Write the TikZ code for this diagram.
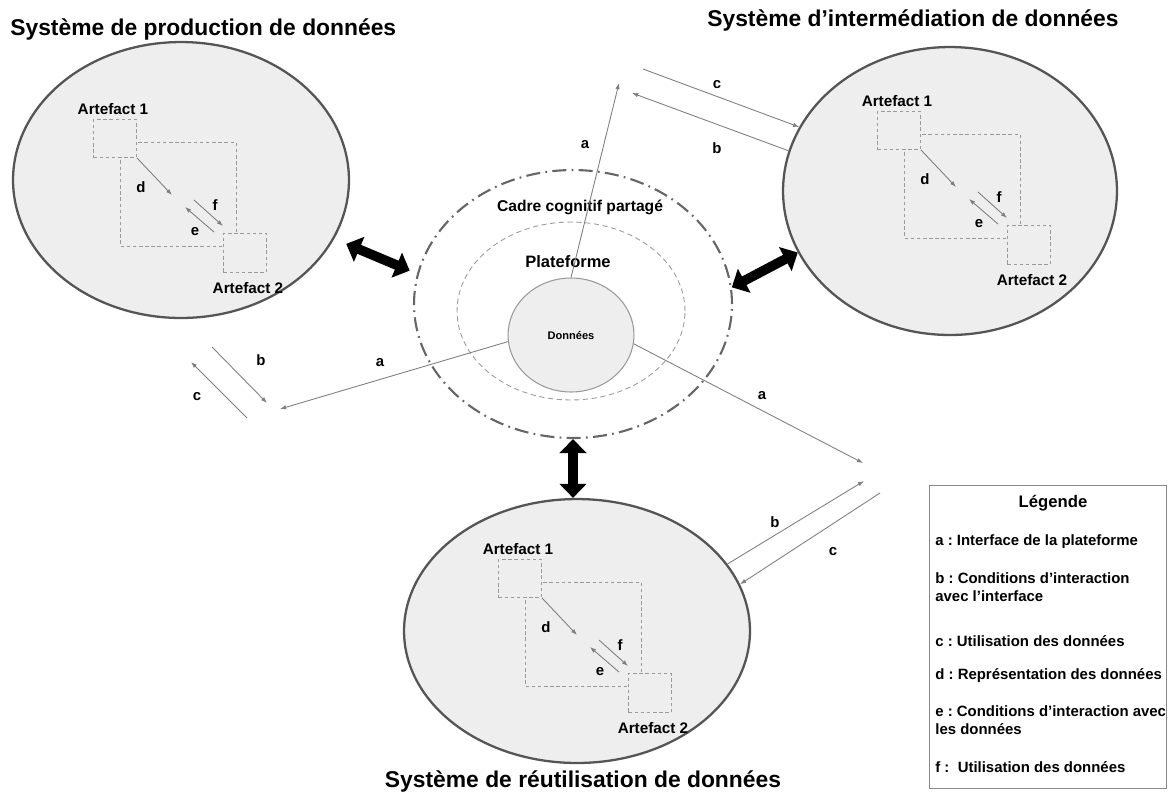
\documentclass[tikz,border=0pt]{standalone}
\usepackage{fontspec}
\setmainfont{Liberation Sans}
\usepackage{tikz}
\usetikzlibrary{shapes.geometric,arrows.meta}
\frenchspacing

\definecolor{fondgris}{HTML}{EEEEEE}
\definecolor{traitgris}{HTML}{555555}
\definecolor{filgris}{HTML}{7F7F7F}
\definecolor{pointille}{HTML}{9A9A9A}

\tikzset{
  artefacts/.pic={
    \draw[boite] (27,23) rectangle (143,127);
    \node[boite,fill=fondgris,anchor=north west,minimum width=0.86cm,minimum height=0.76cm] (-un) at (0,0) {};
    \node[boite,fill=fondgris,anchor=north west,minimum width=0.86cm,minimum height=0.78cm] (-deux) at (130,114) {};
    \node[etiq] (-nomun) at (20,-10) {Artefact 1};
    \node[etiq] (-nomdeux) at (155,169) {Artefact 2};
    \coordinate (-dfin) at (79,76);
    \coordinate (-fdeb) at (101,81);
    \coordinate (-ffin) at (130,107);
    \coordinate (-edeb) at (121,113);
    \coordinate (-efin) at (92,88);
    \draw[fil] (-un.south east) -- (-dfin);
    \draw[fil] (-fdeb) -- (-ffin);
    \draw[fil] (-edeb) -- (-efin);
    \node[lettre] (-d) at (48,68) {d};
    \node[lettre] (-f) at (122,86) {f};
    \node[lettre] (-e) at (102,113) {e};
  }
}

\begin{document}
\begin{tikzpicture}[x=0.02cm,y=-0.02cm,
  systeme/.style={ellipse,draw=traitgris,line width=1.3pt,fill=fondgris,inner sep=0pt},
  titre/.style={font=\fontsize{13}{15}\selectfont\bfseries,inner sep=0pt},
  etiq/.style={font=\fontsize{8.7}{10}\selectfont\bfseries,inner sep=0pt},
  lettre/.style={font=\fontsize{8.5}{10}\selectfont\bfseries,inner sep=0pt},
  boite/.style={draw=pointille,dash pattern=on 2pt off 1.5pt,line width=0.5pt},
  fil/.style={draw=filgris,line width=0.5pt,-{Latex[length=3.5pt,width=2.5pt]}},
  bloc/.style={line width=5.5pt,{Triangle[width=15pt,length=8pt]}-{Triangle[width=15pt,length=8pt]}},
  legtexte/.style={font=\fontsize{8.5}{10.2}\selectfont\bfseries,inner sep=0pt,anchor=west,align=left}]

\useasboundingbox (0,0) rectangle (1169,796);

\node[titre,anchor=base west] (tprod) at (10,35) {Système de production de données};
\node[titre,anchor=base west] (tinter) at (707,26) {Système d’intermédiation de données};
\node[titre,anchor=base] (treuse) at (583,787) {Système de réutilisation de données};

\node[systeme,minimum width=6.72cm,minimum height=5.52cm] (prod) at (181,180) {};
\node[systeme,minimum width=6.68cm,minimum height=5.76cm] (inter) at (950,191) {};
\node[systeme,minimum width=6.92cm,minimum height=5.28cm] (reuse) at (577,631) {};

\node[ellipse,draw=traitgris!90,line width=1.2pt,dash pattern=on 8pt off 3pt on 1pt off 3pt,minimum width=6.36cm,minimum height=5.36cm,inner sep=0pt] (cadre) at (573,304) {};
\node[ellipse,draw=pointille,line width=0.5pt,dash pattern=on 3pt off 2pt,minimum width=4.56cm,minimum height=3.56cm,inner sep=0pt] (plat) at (571,311) {};
\node[ellipse,draw=pointille,fill=fondgris,line width=0.6pt,minimum width=2.52cm,minimum height=2.28cm,inner sep=0pt,font=\fontsize{6.3}{7}\selectfont\bfseries] (donnees) at (571,335) {Données\hspace{0.3cm}};
\node[etiq,font=\fontsize{8.9}{10}\selectfont\bfseries] (tcadre) at (580,207) {Cadre cognitif partagé};
\node[etiq,font=\fontsize{9.4}{11}\selectfont\bfseries] (tplat) at (568,262) {Plateforme};

\pic (aprod) at (93,119) {artefacts};
\pic (ainter) at (877,111) {artefacts};
\pic (areuse) at (498,559) {artefacts};

\draw[bloc,shorten <=0.26cm,shorten >=0.16cm] (prod.-21) -- (cadre.169);
\draw[bloc] (cadre.6) -- (inter.202);
\draw[bloc] (cadre.south) -- (cadre.south |- reuse.north);

\coordinate (ahaut) at (619,83);
\coordinate (agauche) at (280,409);
\coordinate (adroite) at (863,463);
\draw[fil] (donnees.north) -- (ahaut);
\draw[fil] (donnees.186) -- (agauche);
\draw[fil] (donnees.352) -- (adroite);
\node[lettre] (la1) at (585,145) {a};
\node[lettre] (la2) at (380,363) {a};
\node[lettre] (la3) at (762,396) {a};

\coordinate (cinter) at (643,69);
\coordinate (binter) at (632,93);
\draw[fil] (cinter) -- (inter.157);
\draw[fil] (inter.166) -- (binter);
\node[lettre] (lcinter) at (717,85) {c};
\node[lettre] (lbinter) at (717,148) {b};

\coordinate (bprodd) at (212,347);
\coordinate (bprodf) at (267,403);
\coordinate (cprodd) at (247,418);
\coordinate (cprodf) at (191,362);
\draw[fil] (bprodd) -- (bprodf);
\draw[fil] (cprodd) -- (cprodf);
\node[lettre] (lbprod) at (261,360) {b};
\node[lettre] (lcprod) at (197,397) {c};

\coordinate (breuse) at (864,481);
\coordinate (creuse) at (880,493);
\draw[fil] (reuse.24) -- (breuse);
\draw[fil] (creuse) -- (reuse.16);
\node[lettre] (lbreuse) at (775,522) {b};
\node[lettre] (lcreuse) at (833,552) {c};

\node[draw=traitgris!70,line width=0.7pt,anchor=north west,minimum width=4.74cm,minimum height=6.06cm,inner sep=0pt] (legende) at (929,485) {};
\node[font=\fontsize{9.5}{11}\selectfont\bfseries,inner sep=0pt] (legtitre) at (1053,503) {Légende};
\node[legtexte] (lega) at (935,542) {a : Interface de la plateforme};
\node[legtexte] (legb) at (935,587) {b : Conditions d’interaction\\avec l’interface};
\node[legtexte] (legc) at (935,641) {c : Utilisation des données};
\node[legtexte] (legd) at (935,676) {d : Représentation des données};
\node[legtexte] (lege) at (935,720) {e : Conditions d’interaction avec\\les données};
\node[legtexte] (legf) at (935,767) {f :\ \ Utilisation des données};
\end{tikzpicture}
\end{document}
